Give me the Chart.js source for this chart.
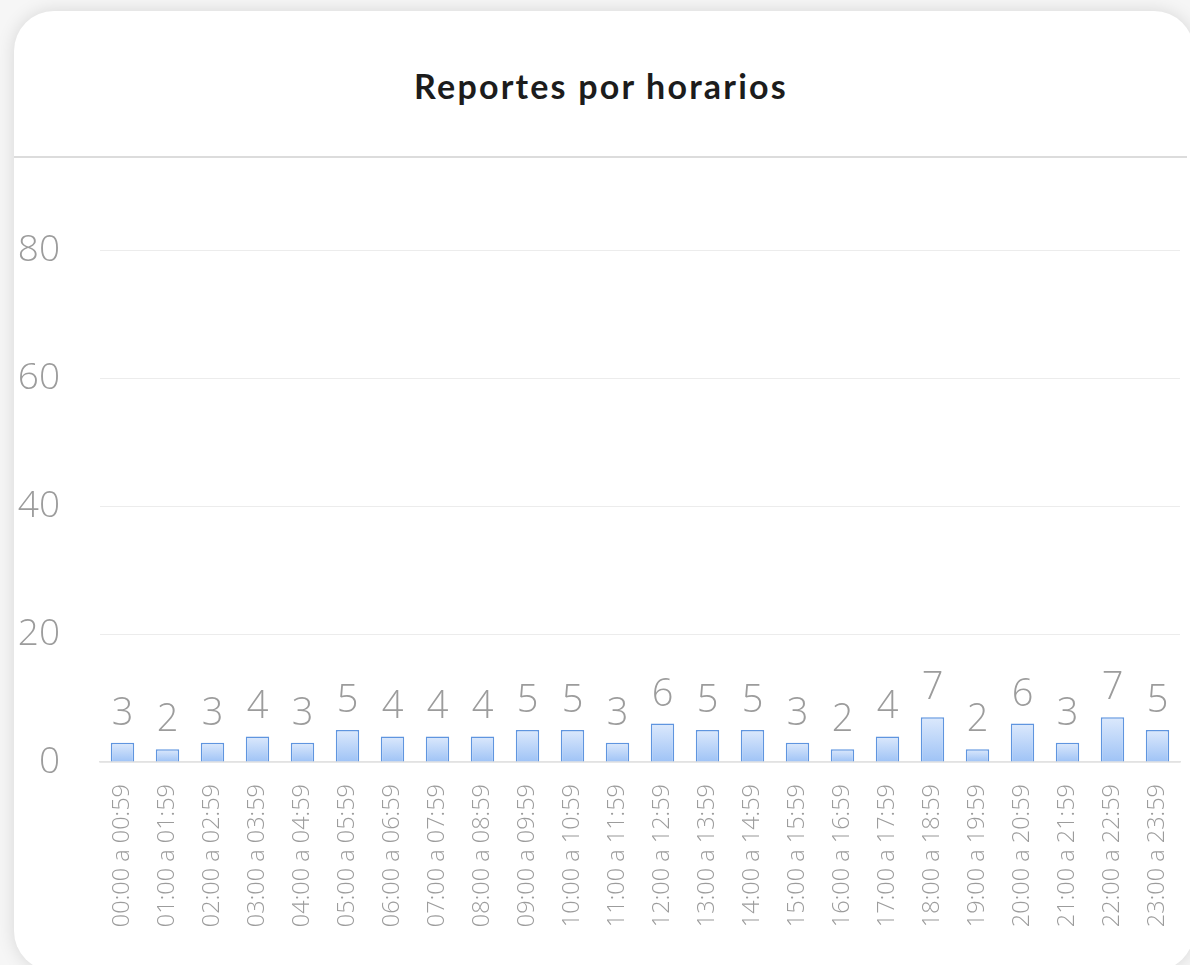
<!DOCTYPE html>
<html>
<head>
<meta charset="utf-8">
<script src="https://cdn.jsdelivr.net/npm/chart.js@4.4.1/dist/chart.umd.min.js"></script>
<style>
  html, body { margin: 0; padding: 0; background: #f6f6f6; overflow: hidden; }
  body { width: 1190px; height: 965px; position: relative; }
  .card {
    position: absolute; left: 14px; top: 11px; width: 1180px; height: 960px;
    background: #fff; border-radius: 40px;
    box-shadow: 0 0 18px rgba(0,0,0,0.13);
  }
  .title {
    position: absolute; left: 0; right: 6px; top: 58px; text-align: center;
    font-family: "Lato", "Noto Sans", sans-serif; font-weight: 700; font-size: 34px;
    line-height: 1; color: #1c1c1c; letter-spacing: 2.2px;
  }
  .sep { position: absolute; left: 0; right: 7px; top: 145px; height: 2px; background: #dcdcdc; }
  #wrap { position: absolute; left: 0; top: 160px; width: 1190px; height: 805px; }
</style>
</head>
<body>
<div class="card">
  <div class="title">Reportes por horarios</div>
  <div class="sep"></div>
</div>
<div id="wrap"><canvas id="horasChart"></canvas></div>
<script>
// Datos del gráfico
const horarios = [
  '00:00 a 00:59', '01:00 a 01:59', '02:00 a 02:59', '03:00 a 03:59',
  '04:00 a 04:59', '05:00 a 05:59', '06:00 a 06:59', '07:00 a 07:59',
  '08:00 a 08:59', '09:00 a 09:59', '10:00 a 10:59', '11:00 a 11:59',
  '12:00 a 12:59', '13:00 a 13:59', '14:00 a 14:59', '15:00 a 15:59',
  '16:00 a 16:59', '17:00 a 17:59', '18:00 a 18:59', '19:00 a 19:59',
  '20:00 a 20:59', '21:00 a 21:59', '22:00 a 22:59', '23:00 a 23:59'
];
const reportes = [3, 2, 3, 4, 3, 5, 4, 4, 4, 5, 5, 3, 6, 5, 5, 3, 2, 4, 7, 2, 6, 3, 7, 5];
const ticksY = [0, 20, 40, 60, 80];

const grisTexto = '#9c9c9c';
const fuente = '"Open Sans", "Noto Sans", sans-serif';

// Etiquetas encima de cada barra
const etiquetasPlugin = {
  id: 'etiquetas',
  afterDatasetsDraw(chart) {
    const ctx = chart.ctx;
    const meta = chart.getDatasetMeta(0);
    ctx.save();
    ctx.font = '300 38px ' + fuente;
    ctx.fillStyle = grisTexto;
    ctx.textAlign = 'center';
    ctx.textBaseline = 'alphabetic';
    meta.data.forEach((bar, i) => {
      ctx.fillText(String(reportes[i]), bar.x, bar.y - 18);
    });
    ctx.restore();
  }
};

// Degradado vertical de cada barra
const rellenoBarra = (context) => {
  const chart = context.chart;
  const ys = chart.scales.y;
  if (!ys || !chart.chartArea) return '#bcd5f8';
  const top = ys.getPixelForValue(context.raw);
  const bottom = ys.getPixelForValue(0);
  const g = chart.ctx.createLinearGradient(0, top, 0, bottom);
  g.addColorStop(0, '#dce9fc');
  g.addColorStop(1, '#9fc3f6');
  return g;
};

new Chart(document.getElementById('horasChart').getContext('2d'), {
  type: 'bar',
  data: {
    labels: horarios,
    datasets: [{
      data: reportes,
      backgroundColor: rellenoBarra,
      borderColor: '#5f95df',
      borderWidth: 1.5,
      categoryPercentage: 1,
      barPercentage: 0.52
    }]
  },
  options: {
    responsive: true,
    maintainAspectRatio: false,
    animation: false,
    layout: { padding: { top: 26, right: 10, bottom: 0, left: 0 } },
    plugins: { legend: { display: false }, tooltip: { enabled: false } },
    scales: {
      x: {
        grid: { display: false, drawTicks: false },
        border: { display: true, color: '#e2e2e2', width: 1.5 },
        ticks: {
          color: grisTexto,
          font: { family: fuente, size: 23.5, weight: '300' },
          minRotation: 90, maxRotation: 90,
          padding: 22,
          autoSkip: false
        },
        afterFit(scale) {
          scale.height = 203;
          scale.paddingLeft = 0; scale.paddingRight = 0;
        }
      },
      y: {
        min: 0,
        max: 90,
        grid: { color: '#ececec', lineWidth: 1, drawTicks: false },
        border: { display: false },
        afterBuildTicks(scale) {
          scale.ticks = ticksY.map(v => ({ value: v }));
        },
        ticks: {
          color: grisTexto,
          font: { family: fuente, size: 37, weight: '300' },
          padding: 40
        },
        afterFit(scale) {
          scale.width = 100;
          scale.paddingTop = 0; scale.paddingBottom = 0;
        }
      }
    }
  },
  plugins: [etiquetasPlugin]
});
</script>
</body>
</html>
